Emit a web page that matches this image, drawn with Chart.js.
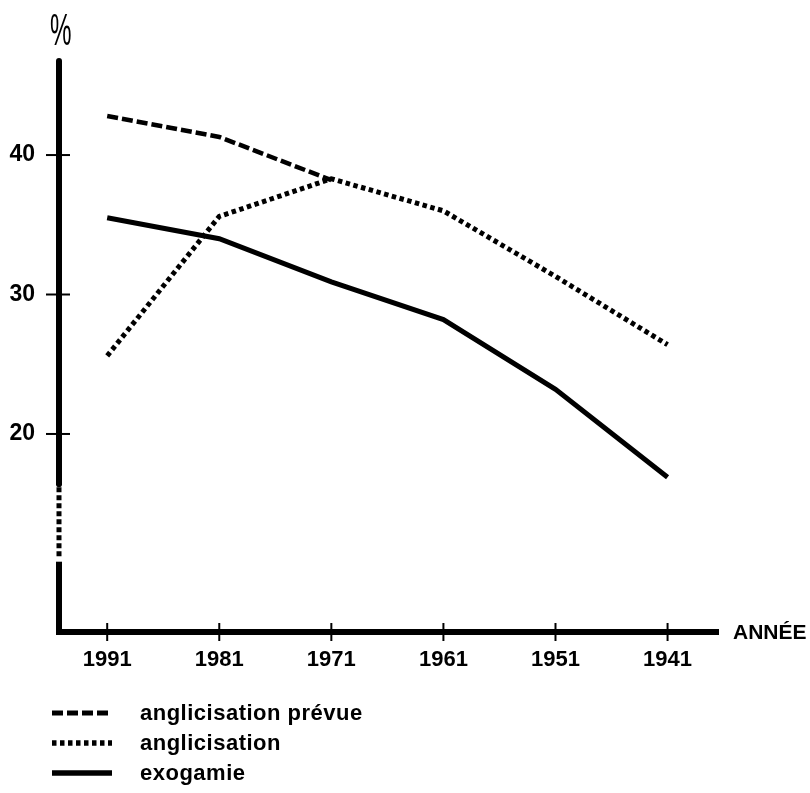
<!DOCTYPE html>
<html lang="fr">
<head>
<meta charset="utf-8">
<title>Anglicisation et exogamie</title>
<script src="https://cdn.jsdelivr.net/npm/chart.js@4.4.1/dist/chart.umd.min.js"></script>
<style>
  html, body { margin: 0; padding: 0; background: #fff; }
  #wrap { position: relative; width: 810px; height: 793px; overflow: hidden; }
  #chart { position: absolute; left: 0; top: 0; }
  .legend { position: absolute; left: 52px; top: 698px; color: #000;
    font: bold 22px 'Liberation Sans', Arial, sans-serif; letter-spacing: 0.5px; }
  .legend .row { height: 30px; display: flex; align-items: center; }
  .legend svg { width: 60px; height: 8px; margin-right: 28px; flex: none; }
</style>
</head>
<body>
<div id="wrap">
  <canvas id="chart" width="810" height="793"></canvas>
  <div class="legend" id="legend"></div>
</div>
<script>
// values (percent)
const years = [1991, 1981, 1971, 1961, 1951, 1941];
const anglicisationPrevue = [42.8, 41.3, 38.2];
const anglicisation = [25.6, 35.6, 38.3, 36.0, 31.3, 26.4];
const exogamie = [35.5, 34.0, 30.9, 28.2, 23.2, 16.9];
const yTicks = [20, 30, 40];
const seriesLabels = ['anglicisation prévue', 'anglicisation', 'exogamie'];

const FONT = "'Liberation Sans', Arial, sans-serif";

function points(values) {
  return values.map((v, i) => ({ x: years[i], y: v }));
}

const datasets = [
  { label: seriesLabels[0], data: points(anglicisationPrevue), borderDash: [11, 4], borderWidth: 4.5 },
  { label: seriesLabels[1], data: points(anglicisation), borderDash: [4.5, 3.5], borderWidth: 5 },
  { label: seriesLabels[2], data: points(exogamie), borderDash: [], borderWidth: 5 }
].map(d => Object.assign(d, {
  borderColor: '#000',
  backgroundColor: '#000',
  pointRadius: 0,
  tension: 0,
  fill: false,
  borderCapStyle: 'butt',
  borderJoinStyle: 'miter'
}));

// y axis with broken segment, crossing ticks, "%" and "ANNÉE"
const axisDecor = {
  id: 'axisDecor',
  afterDraw(chart) {
    const ctx = chart.ctx;
    const ys = chart.scales.y;
    const xs = chart.scales.x;
    const area = chart.chartArea;
    const ax = area.left;
    ctx.save();
    ctx.strokeStyle = '#000';
    ctx.fillStyle = '#000';

    // vertical axis: solid, dotted break, solid
    const breakTop = ys.getPixelForValue(16.4);
    const breakBottom = ys.getPixelForValue(11.2);
    ctx.lineWidth = 6;
    ctx.lineCap = 'round';
    ctx.beginPath();
    ctx.moveTo(ax, area.top - 2);
    ctx.lineTo(ax, breakTop);
    ctx.stroke();
    ctx.lineCap = 'butt';
    ctx.lineWidth = 5;
    ctx.setLineDash([5, 3]);
    ctx.beginPath();
    ctx.moveTo(ax, breakTop + 3);
    ctx.lineTo(ax, breakBottom);
    ctx.stroke();
    ctx.setLineDash([]);
    ctx.lineWidth = 6;
    ctx.beginPath();
    ctx.moveTo(ax, breakBottom + 5);
    ctx.lineTo(ax, area.bottom + 3);
    ctx.stroke();

    // ticks crossing the axes
    ctx.lineWidth = 2;
    ys.ticks.forEach(t => {
      const py = ys.getPixelForValue(t.value);
      ctx.beginPath();
      ctx.moveTo(ax - 13, py);
      ctx.lineTo(ax + 11, py);
      ctx.stroke();
    });
    xs.ticks.forEach(t => {
      const px = xs.getPixelForValue(t.value);
      ctx.beginPath();
      ctx.moveTo(px, area.bottom - 9);
      ctx.lineTo(px, area.bottom + 9);
      ctx.stroke();
    });

    // axis titles
    ctx.font = 'bold 21px ' + FONT;
    ctx.textAlign = 'left';
    ctx.textBaseline = 'middle';
    ctx.fillText('ANNÉE', area.right + 15, area.bottom + 1);

    ctx.save();
    ctx.translate(ax - 9, 45);
    ctx.scale(0.55, 1);
    ctx.font = '300 44px ' + FONT;
    ctx.textBaseline = 'alphabetic';
    ctx.fillText('%', 0, 0);
    ctx.restore();

    ctx.restore();
  }
};

new Chart(document.getElementById('chart'), {
  type: 'line',
  data: { datasets },
  options: {
    responsive: false,
    animation: false,
    events: [],
    layout: { padding: { left: 0, top: 63, right: 92, bottom: 121 } },
    plugins: { legend: { display: false }, tooltip: { enabled: false } },
    scales: {
      x: {
        type: 'linear',
        reverse: true,
        min: 1936.5,
        max: 1995.3,
        afterFit(s) { s.height = 40; },
        afterBuildTicks(s) { s.ticks = years.map(v => ({ value: v })); },
        grid: { display: false },
        border: { display: true, color: '#000', width: 6 },
        ticks: {
          color: '#000',
          padding: 7,
          font: { family: FONT, size: 22, weight: 'bold' },
          callback: v => String(v)
        }
      },
      y: {
        min: 5.8,
        max: 46.6,
        afterFit(s) { s.width = 59; },
        afterBuildTicks(s) { s.ticks = yTicks.map(v => ({ value: v })); },
        grid: { display: false },
        border: { display: false },
        ticks: {
          color: '#000',
          padding: 16,
          font: { family: FONT, size: 23, weight: 'bold' },
          callback: v => String(v)
        }
      }
    }
  },
  plugins: [axisDecor]
});

// legend below the chart, line styles taken from the datasets
const legend = document.getElementById('legend');
datasets.forEach(d => {
  const row = document.createElement('div');
  row.className = 'row';
  const dash = d.borderDash.length ? d.borderDash.join(' ') : 'none';
  row.innerHTML =
    '<svg viewBox="0 0 60 8"><line x1="0" y1="4" x2="60" y2="4" stroke="#000" stroke-width="' +
    (d.borderWidth + 0.5) + '" stroke-dasharray="' + dash + '"/></svg>' +
    '<span>' + d.label + '</span>';
  legend.appendChild(row);
});
</script>
</body>
</html>
